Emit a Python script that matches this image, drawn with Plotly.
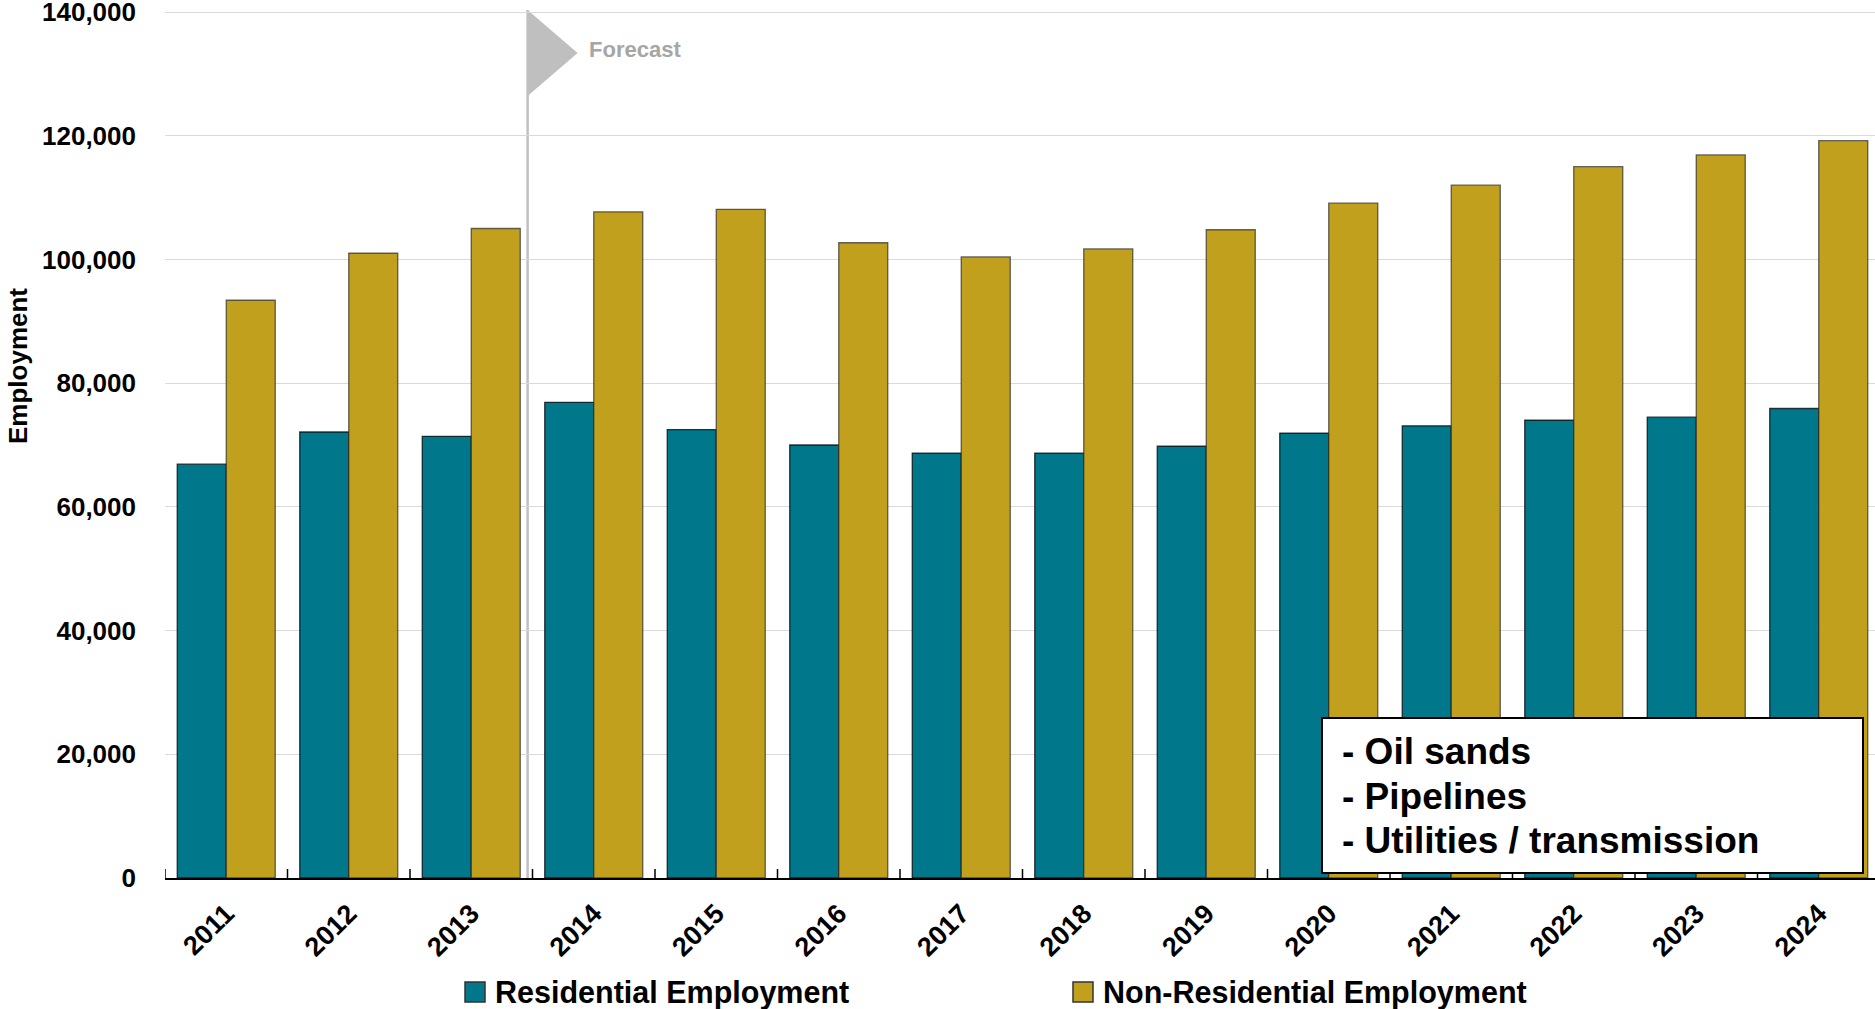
import plotly.graph_objects as go

# Employment by year (persons)
years = ["2011", "2012", "2013", "2014", "2015", "2016", "2017",
         "2018", "2019", "2020", "2021", "2022", "2023", "2024"]
residential = [66900, 72100, 71400, 76900, 72500, 70000, 68700,
               68700, 69800, 71900, 73100, 74000, 74500, 75900]
non_residential = [93400, 101000, 105000, 107700, 108100, 102700, 100400,
                   101700, 104800, 109100, 112000, 115000, 116900, 119200]
y_ticks = [0, 20000, 40000, 60000, 80000, 100000, 120000, 140000]
series_names = ["Residential Employment", "Non-Residential Employment"]
note_lines = ["- Oil sands", "- Pipelines", "- Utilities / transmission"]
forecast_label = "Forecast"
first_forecast_year = "2014"

TEAL = "#00778A"
GOLD = "#C1A01E"
FONT = "Liberation Sans, Arial, sans-serif"

W, H = 1875, 1009
ML, MR, MT, MB = 165, 0, 9, 131
PW, PH = W - ML - MR, H - MT - MB
CAT_PX = 122.5  # pixel width of one category slot
TOP_PAD_PX = 3  # keep the top gridline just inside the plot area
Y_MAX = y_ticks[-1] * PH / (PH - TOP_PAD_PX)


def px_x(px):
    return (px - ML) / PW


def px_y(py):
    return (H - MB - py) / PH


x_idx = list(range(len(years)))

fig = go.Figure()
fig.add_trace(go.Bar(
    x=x_idx, y=residential, name=series_names[0],
    marker=dict(color=TEAL, line=dict(color="rgba(0,0,0,0.75)", width=1.3)),
    showlegend=False,
))
fig.add_trace(go.Bar(
    x=x_idx, y=non_residential, name=series_names[1],
    marker=dict(color=GOLD, line=dict(color="rgba(40,40,40,0.7)", width=1.3)),
    showlegend=False,
))

fig.update_layout(
    width=W, height=H,
    margin=dict(l=ML, r=MR, t=MT, b=MB, pad=0, autoexpand=False),
    paper_bgcolor="white", plot_bgcolor="white",
    barmode="group", bargap=0.2, bargroupgap=0,
    showlegend=False,
)

fig.update_xaxes(
    range=[-0.5, -0.5 + PW / CAT_PX],
    tickmode="array", tickvals=x_idx, ticktext=years,
    tickangle=-45,
    tickfont=dict(family=FONT, size=27, color="black", weight="bold"),
    showline=True, linecolor="black", linewidth=2,
    ticks="", showgrid=False, zeroline=False,
    ticklabelstandoff=7, automargin=False,
)
fig.update_yaxes(
    range=[0, Y_MAX],
    tickmode="array", tickvals=y_ticks,
    ticktext=[f"{v:,}" for v in y_ticks],
    tickfont=dict(family=FONT, size=26, color="black", weight="bold"),
    showgrid=True, gridcolor="#dadada", gridwidth=1.3,
    zeroline=False, showline=False, ticks="",
    ticklabelstandoff=28, ticklabeloverflow="allow", automargin=False,
)

# category boundary ticks pointing into the plot
for b in range(len(years) + 1):
    fig.add_shape(type="line", xref="x", yref="paper",
                  x0=b - 0.5, x1=b - 0.5, y0=0, y1=px_y(H - MB - 9),
                  line=dict(color="black", width=1.5), layer="above")

# forecast marker: vertical rule with a flag
fx = years.index(first_forecast_year) - 0.54
fig.add_shape(type="line", xref="x", yref="paper",
              x0=fx, x1=fx, y0=0, y1=px_y(10),
              line=dict(color="#c0c0c0", width=2.5), layer="below")
flag_w = 50 / CAT_PX
fig.add_shape(type="path", xref="x", yref="paper",
              path=f"M {fx},{px_y(10)} L {fx + flag_w},{px_y(53)} L {fx},{px_y(96)} Z",
              fillcolor="#bfbfbf", line=dict(width=0), layer="below")
fig.add_annotation(text=forecast_label, xref="paper", yref="paper",
                   x=px_x(587), y=px_y(50), xanchor="left", yanchor="middle",
                   showarrow=False,
                   font=dict(family=FONT, size=22, color="#a6a6a6", weight="bold"))

# y-axis title
fig.add_annotation(text="Employment", xref="paper", yref="paper",
                   x=px_x(18), y=px_y(366), xanchor="center", yanchor="middle",
                   textangle=-90, showarrow=False,
                   font=dict(family=FONT, size=26, color="black", weight="bold"))

# note box listing the sectors
fig.add_shape(type="rect", xref="paper", yref="paper",
              x0=px_x(1322), x1=px_x(1863), y0=px_y(873), y1=px_y(718),
              fillcolor="white", line=dict(color="black", width=2), layer="above")
for line_text, cy in zip(note_lines, [751.5, 796.5, 840.5]):
    fig.add_annotation(text=line_text, xref="paper", yref="paper",
                       x=px_x(1340), y=px_y(cy), xanchor="left", yanchor="middle",
                       showarrow=False,
                       font=dict(family=FONT, size=37, color="black", weight="bold"))

# legend drawn as swatches and labels along the bottom edge
for name, color, sx, tx in zip(series_names, [TEAL, GOLD], [465, 1073], [493, 1101]):
    fig.add_shape(type="rect", xref="paper", yref="paper",
                  x0=px_x(sx), x1=px_x(sx + 20), y0=px_y(1002), y1=px_y(982),
                  fillcolor=color, line=dict(color="#333333", width=1.5))
    fig.add_annotation(text=name, xref="paper", yref="paper",
                       x=px_x(tx), y=px_y(992), xanchor="left", yanchor="middle",
                       showarrow=False,
                       font=dict(family=FONT, size=30.5, color="black", weight="bold"))

fig.write_html("out.html")
